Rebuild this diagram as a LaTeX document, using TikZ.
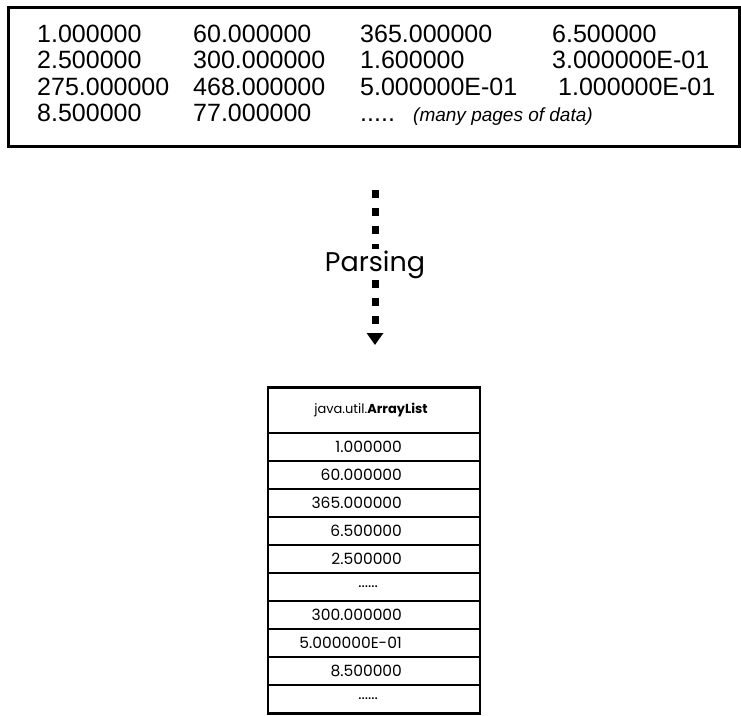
\documentclass[tikz,border=0pt]{standalone}
\usepackage{fontspec}
\setmainfont{Liberation Sans}
\newfontfamily\gothic{Poppins}
\usetikzlibrary{arrows.meta,positioning}

\newcommand{\gap}{......}

\begin{document}
\begin{tikzpicture}[x=1pt, y=-1pt]
  \tikzstyle{value} = [anchor=base west, inner sep=0pt, font=\fontsize{25}{25}\selectfont]
  \tikzstyle{cell}  = [draw, line width=1.3pt, minimum width=211pt, minimum height=28pt, inner sep=0pt]
  \tikzstyle{entry} = [anchor=east, inner sep=0pt, font=\gothic\fontsize{15.5}{15.5}\selectfont]

  \useasboundingbox (0,0) rectangle (741,715);

  \def\cA{37};
  \def\cB{193};
  \def\cC{360};
  \def\cD{552};

  % data file
  \node[draw, line width=3pt, minimum width=731pt, minimum height=139pt] (file) at (373.5,76.5) {};

  % row 1
  \node[value] (v11) at (\cA, 42) {1.000000};
  \node[value] (v12) at (\cB, 42) {60.000000};
  \node[value] (v13) at (\cC, 42) {365.000000};
  \node[value] (v14) at (\cD, 42) {6.500000};
  % row 2
  \node[value] (v21) at (\cA, 68.5) {2.500000};
  \node[value] (v22) at (\cB, 68.5) {300.000000};
  \node[value] (v23) at (\cC, 68.5) {1.600000};
  \node[value] (v24) at (\cD, 68.5) {3.000000E-01};
  % row 3
  \node[value] (v31) at (\cA, 95.5) {275.000000};
  \node[value] (v32) at (\cB, 95.5) {468.000000};
  \node[value] (v33) at (\cC, 95.5) {5.000000E-01};
  \node[value] (v34) at (558, 95.5) {1.000000E-01};
  % row 4
  \node[value] (v41) at (\cA, 121.5) {8.500000};
  \node[value] (v42) at (\cB, 121.5) {77.000000};
  \node[value] (v43) at (\cC, 121.5) {.....};
  \node[value, font=\itshape\fontsize{19}{19}\selectfont] (more) at (413, 121.5) {(many pages of data)};

  % parsing arrow
  \coordinate (from) at (375, 190);
  \coordinate (to) at (375, 345);
  \draw[line width=7pt, dash pattern=on 8pt off 10pt, -{Triangle[width=16pt, length=12pt]}] (from) -- (to);
  \node[fill=white, inner sep=1pt, anchor=base, font=\gothic\fontsize{27}{27}\selectfont] (parse) at (375, 271) {Parsing};

  % array list
  \node[cell, minimum height=45pt] (hdr) at (374, 410.5) {};
  \node[inner sep=0pt, font=\gothic\fontsize{13}{13}\selectfont] (title) at ([xshift=-3pt]hdr.center) {java.util.\textbf{ArrayList}};

  \foreach \val/\dx [count=\i] in {1.000000/78, 60.000000/78, 365.000000/78, 6.500000/78, 2.500000/78,
      \gap/102, 300.000000/78, 5.000000E-01/78, 8.500000/78, \gap/102} {
    \node[cell] (c\i) at (374, 419+28*\i) {};
    \node[entry] (e\i) at ([xshift=-\dx pt]c\i.east) {\val};
  }

  \draw[line width=2pt] (hdr.north west) rectangle (c10.south east);

\end{tikzpicture}
\end{document}
